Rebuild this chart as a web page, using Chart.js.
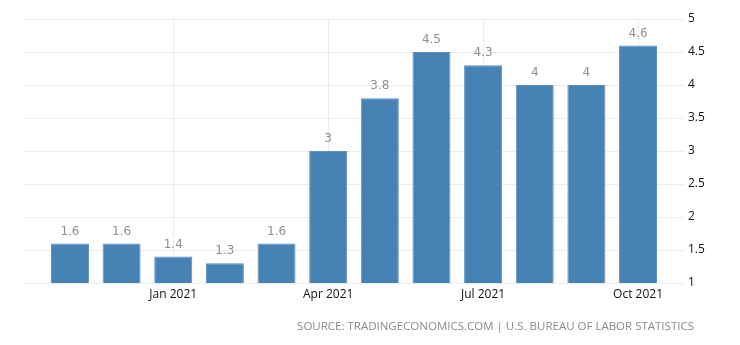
<!DOCTYPE html>
<html>
<head>
<meta charset="utf-8">
<script src="https://cdn.jsdelivr.net/npm/chart.js@4"></script>
<style>
  html, body { margin: 0; padding: 0; background: #fff; }
  #wrap { position: relative; width: 740px; height: 345px; }
  #src { position: absolute; right: 46px; top: 318px; font-family: "Open Sans", sans-serif; font-size: 11.5px; color: #8a8a8a; white-space: nowrap; }
</style>
</head>
<body>
<div id="wrap">
  <canvas id="c" width="740" height="345"></canvas>
  <div id="src">SOURCE: TRADINGECONOMICS.COM | U.S. BUREAU OF LABOR STATISTICS</div>
</div>
<script>
const months = ["Nov 2020","Dec 2020","Jan 2021","Feb 2021","Mar 2021","Apr 2021","May 2021","Jun 2021","Jul 2021","Aug 2021","Sep 2021","Oct 2021"];
const values = [1.6, 1.6, 1.4, 1.3, 1.6, 3, 3.8, 4.5, 4.3, 4, 4, 4.6];
const tickIndices = [2, 5, 8, 11];
const tickLabels = ["Jan 2021", "Apr 2021", "Jul 2021", "Oct 2021"];
const yTicks = [1, 1.5, 2, 2.5, 3, 3.5, 4, 4.5, 5];

const valueLabels = {
  id: 'valueLabels',
  afterDatasetsDraw(chart) {
    const ctx = chart.ctx;
    const meta = chart.getDatasetMeta(0);
    ctx.save();
    ctx.font = '12px "DejaVu Sans", sans-serif';
    ctx.fillStyle = '#8f8f8f';
    ctx.textAlign = 'center';
    ctx.textBaseline = 'bottom';
    meta.data.forEach((bar, i) => {
      ctx.fillText(String(values[i]), bar.x, bar.y - 6);
    });
    ctx.restore();
  }
};

new Chart(document.getElementById('c'), {
  type: 'bar',
  data: {
    datasets: [{
      data: values.map((v, i) => ({ x: i, y: v })),
      backgroundColor: '#4682b4',
      borderColor: '#5a90be',
      borderWidth: 1,
      barPercentage: 0.92,
      categoryPercentage: 0.8
    }]
  },
  options: {
    responsive: false,
    animation: false,
    events: [],
    layout: { padding: { left: 24, top: 19, right: 0, bottom: 0 } },
    plugins: { legend: { display: false }, tooltip: { enabled: false } },
    scales: {
      x: {
        type: 'linear',
        offset: false,
        min: -0.89,
        max: 11.89,
        afterDataLimits(scale) { scale.min = -0.89; scale.max = 11.89; },
        afterBuildTicks(scale) { scale.ticks = tickIndices.map(v => ({ value: v })); },
        afterFit(scale) { scale.height = 62; },
        ticks: {
          autoSkip: false,
          maxRotation: 0,
          padding: 4,
          color: '#111',
          font: { family: '"Open Sans", sans-serif', size: 12 },
          callback(value) { const k = tickIndices.indexOf(value); return k >= 0 ? tickLabels[k] : ''; }
        },
        grid: { color: '#ececec', drawTicks: false, offset: false },
        border: { display: false }
      },
      y: {
        position: 'right',
        min: 1,
        max: 5,
        afterBuildTicks(scale) { scale.ticks = yTicks.map(v => ({ value: v })); },
        afterFit(scale) { scale.width = 56; },
        ticks: {
          padding: 4,
          color: '#111',
          font: { family: '"Open Sans", sans-serif', size: 12 },
          callback(value) { return String(value); }
        },
        grid: { color: '#ececec', drawTicks: false },
        border: { display: false }
      }
    }
  },
  plugins: [valueLabels]
});
</script>
</body>
</html>
